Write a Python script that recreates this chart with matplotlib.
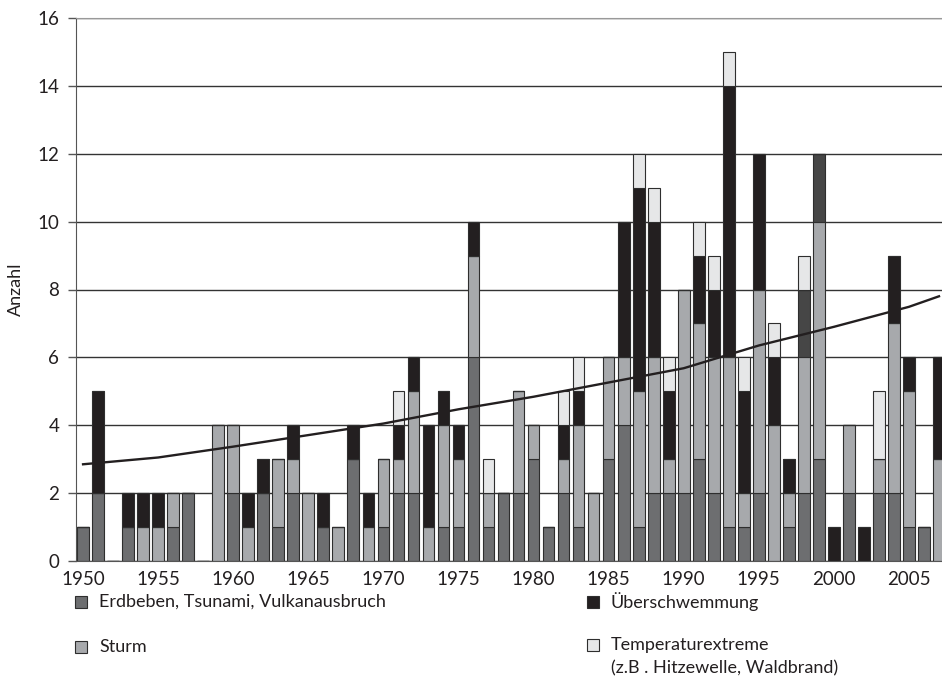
import matplotlib.pyplot as plt
from matplotlib.patches import Rectangle
import numpy as np

plt.rcParams['font.family'] = ['Lato', 'DejaVu Sans']

# Daten: Anzahl der Naturkatastrophen pro Jahr
jahre = list(range(1950, 2008))
erdbeben = [1, 2, 0, 1, 0, 0, 1, 2, 0, 0,
            2, 0, 2, 1, 2, 0, 1, 0, 3, 0,
            1, 2, 2, 0, 1, 1, 6, 1, 2, 2,
            3, 1, 2, 1, 0, 3, 4, 1, 2, 2,
            2, 3, 2, 1, 1, 2, 0, 1, 2, 3,
            0, 2, 0, 2, 2, 1, 1, 0]
sturm = [0, 0, 0, 0, 1, 1, 1, 0, 0, 4,
         2, 1, 0, 2, 1, 2, 0, 1, 0, 1,
         2, 1, 3, 1, 3, 2, 3, 1, 0, 3,
         1, 0, 1, 3, 2, 3, 2, 4, 4, 1,
         6, 4, 4, 5, 1, 6, 4, 1, 4, 7,
         0, 2, 0, 1, 5, 4, 0, 3]
sonstige = [0] * 48 + [2, 2] + [0] * 8   # dunkelgraue Segmente 1998/1999
flut = [0, 3, 0, 1, 1, 1, 0, 0, 0, 0,
        0, 1, 1, 0, 1, 0, 1, 0, 1, 1,
        0, 1, 1, 3, 1, 1, 1, 0, 0, 0,
        0, 0, 1, 1, 0, 0, 4, 6, 4, 2,
        0, 2, 2, 8, 3, 4, 2, 1, 0, 0,
        1, 0, 1, 0, 2, 1, 0, 3]
temperatur = [0, 0, 0, 0, 0, 0, 0, 0, 0, 0,
              0, 0, 0, 0, 0, 0, 0, 0, 0, 0,
              0, 1, 0, 0, 0, 0, 0, 1, 0, 0,
              0, 0, 1, 1, 0, 0, 0, 1, 1, 1,
              0, 1, 1, 1, 1, 0, 1, 0, 1, 0,
              0, 0, 0, 2, 0, 0, 0, 0]

trend_jahre = [1950, 1955, 1960, 1965, 1970, 1975, 1980, 1985, 1990, 1995, 2000, 2005, 2007]
trend_werte = [2.85, 3.05, 3.37, 3.71, 4.05, 4.47, 4.84, 5.26, 5.68, 6.35, 6.9, 7.49, 7.8]

farben = {'erdbeben': '#6d6e70', 'sturm': '#a7a9ac', 'sonstige': '#464646',
          'flut': '#231f20', 'temperatur': '#e6e7e8'}

fig = plt.figure(figsize=(9.42, 6.98), dpi=100)
ax = fig.add_axes([76 / 942, 1 - 561 / 698, 1 - 76 / 942, (561 - 18) / 698])

unten = np.zeros(len(jahre))
for werte, name in [(erdbeben, 'erdbeben'), (sturm, 'sturm'), (sonstige, 'sonstige'),
                    (flut, 'flut'), (temperatur, 'temperatur')]:
    werte = np.array(werte)
    ax.bar(jahre, werte, bottom=unten, width=0.78, color=farben[name],
           edgecolor='#2e2e2e', linewidth=0.8, zorder=2)
    unten += werte

ax.plot(trend_jahre, trend_werte, color='#231f20', linewidth=1.7, zorder=3)

ax.set_xlim(1949.53, 2007.2)
ax.set_ylim(0, 16)
ax.set_yticks(range(0, 17, 2))
ax.set_xticks(range(1950, 2006, 5))
ax.tick_params(axis='x', length=0, labelsize=13.5, pad=7, colors='#231f20')
ax.tick_params(axis='y', length=6, width=1, color='#555555', labelsize=13.5, pad=6,
               colors='#231f20')
ax.yaxis.grid(True, color='#333333', linewidth=1)
ax.set_axisbelow(True)
ax.spines['right'].set_visible(False)
ax.spines['top'].set_color('#999999')
ax.spines['left'].set_color('#555555')
ax.spines['bottom'].set_color('#555555')
ax.set_ylabel('Anzahl', fontsize=13, color='#231f20', labelpad=10)

# Legende unter dem Diagramm
legende = [('Erdbeben, Tsunami, Vulkanausbruch', farben['erdbeben'], 75, 602),
           ('Überschwemmung', farben['flut'], 587, 602),
           ('Sturm', farben['sturm'], 75, 647),
           ('Temperaturextreme', farben['temperatur'], 587, 645)]
for text, farbe, px, py in legende:
    fig.add_artist(Rectangle((px / 942, 1 - (py + 6) / 698), 12 / 942, 12 / 698,
                             facecolor=farbe, edgecolor='#2e2e2e', linewidth=0.8,
                             transform=fig.transFigure))
    fig.text((px + 24) / 942, 1 - py / 698, text, fontsize=13, va='center',
             ha='left', color='#231f20')
fig.text((587 + 24) / 942, 1 - 668 / 698, '(z.B . Hitzewelle, Waldbrand)', fontsize=13,
         va='center', ha='left', color='#231f20')

fig.savefig('out.png', dpi=100)
